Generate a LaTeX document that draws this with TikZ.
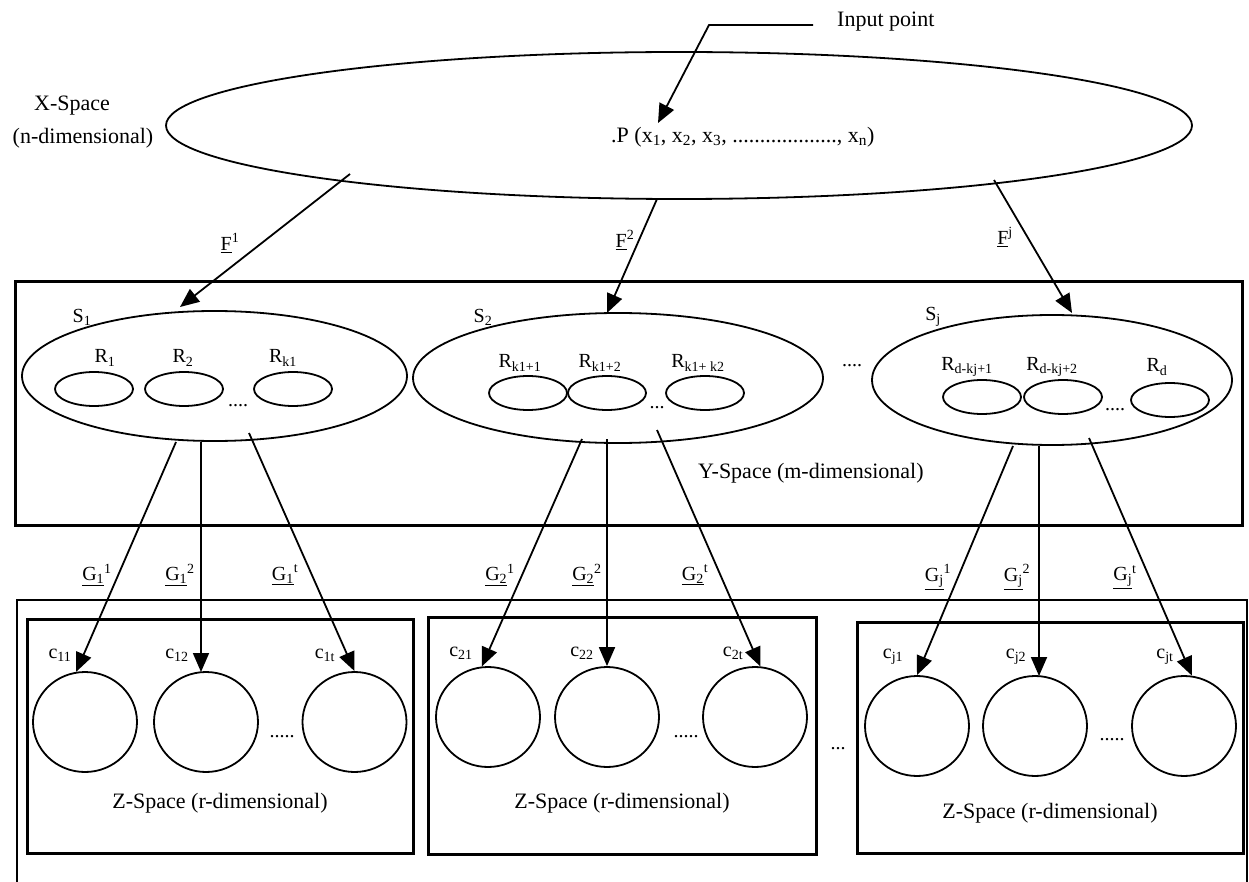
\documentclass[tikz,border=0pt]{standalone}
\usepackage{fontspec}
\setmainfont{Liberation Serif}
\usetikzlibrary{shapes.geometric,arrows.meta}
\begin{document}
\begin{tikzpicture}[x=1pt,y=-1pt,
  lbl/.style={font=\fontsize{22}{26}\selectfont, inner sep=0pt},
  sl/.style={font=\fontsize{20}{24}\selectfont, inner sep=0pt},
  ell/.style={draw, ellipse, line width=1.8pt, inner sep=0pt},
  rell/.style={ell, minimum width=78pt, minimum height=34pt},
  circ/.style={ell, minimum width=104pt, minimum height=100pt},
  box/.style={draw, line width=3pt},
  conn/.style={line width=1.8pt, -{Triangle[length=19pt,width=16pt]}},
]
\useasboundingbox (0,0) rectangle (1249,882);

% ---------- X-space ----------
\node[ell, minimum width=1026pt, minimum height=147pt] (X) at (679,125.5) {};
\node[lbl] (xs1) at (72,106) {X-Space};
\node[lbl] (xs2) at (83,138) {(n-dimensional)};
\node[lbl, anchor=west] (P) at (611,137) {.P (x\textsubscript{1}, x\textsubscript{2}, x\textsubscript{3}, ..................., x\textsubscript{n})};
\node[lbl, anchor=west] (inp) at (837,22) {Input point};
\coordinate (ibend) at (709,25);
\coordinate (itip) at (658,123);
\draw[conn] (813,25) -- (ibend) -- (itip);

% ---------- Y-space ----------
\draw[box] (15,282) rectangle (1242,525);
\node[lbl, anchor=west] (ys) at (698,473) {Y-Space (m-dimensional)};

\node[ell, minimum width=385pt, minimum height=130pt] (S1) at (214.5,376) {};
\node[ell, minimum width=410pt, minimum height=130pt] (S2) at (618,378) {};
\node[ell, minimum width=360pt, minimum height=130pt] (Sj) at (1052,380) {};
\node[sl] (s1l) at (82,317) {S\textsubscript{1}};
\node[sl] (s2l) at (483,317) {S\textsubscript{2}};
\node[sl] (sjl) at (933,317) {S\textsubscript{j}};

\node[rell] (R1) at (94,389) {};
\node[rell] (R2) at (184,389) {};
\node[rell] (Rk1) at (293,389) {};
\node[rell] (Rk11) at (528,393) {};
\node[rell] (Rk12) at (607,393) {};
\node[rell] (Rk1k2) at (705,393) {};
\node[rell] (Rd1) at (982,397) {};
\node[rell] (Rd2) at (1063,397) {};
\node[rell] (Rd) at (1170,400) {};

\node[sl] at (105,358) {R\textsubscript{1}};
\node[sl] at (183,358) {R\textsubscript{2}};
\node[sl] at (283,358) {R\textsubscript{k1}};
\node[sl] at (520,363) {R\textsubscript{k1+1}};
\node[sl] at (600,363) {R\textsubscript{k1+2}};
\node[sl] at (698,363) {R\textsubscript{k1+ k2}};
\node[sl] at (967,367) {R\textsubscript{d-kj+1}};
\node[sl] at (1052,367) {R\textsubscript{d-kj+2}};
\node[sl] at (1157,367) {R\textsubscript{d}};

\node[sl] at (238,406) {....};
\node[sl] at (657,408) {...};
\node[sl] at (1115,410) {....};
\node[sl] at (852,366) {....};

% F arrows
\coordinate (f1s) at (350,174);
\coordinate (f2s) at (657,199);
\coordinate (fjs) at (994,180);
\coordinate (f1t) at (180,307);
\coordinate (f2t) at (607,313);
\coordinate (fjt) at (1072,313);
\draw[conn] (f1s) -- (f1t);
\draw[conn] (f2s) -- (f2t);
\draw[conn] (fjs) -- (fjt);
\node[sl] at (230,243) {\underline{F}\textsuperscript{1}};
\node[sl] at (625,240) {\underline{F}\textsuperscript{2}};
\node[sl] at (1005,237) {\underline{F}\textsuperscript{j}};

% ---------- Z-space ----------
\draw[line width=2pt] (17,895) -- (17,600) -- (1247,600) -- (1247,895);
\draw[box] (27,619) rectangle (413,853);
\draw[box] (428,617) rectangle (816,854);
\draw[box] (857,622) rectangle (1243,853);

\node[circ] (c11) at (85,722) {};
\node[circ] (c12) at (206,722) {};
\node[circ] (c1t) at (354.5,722) {};
\node[circ] (c21) at (488,717) {};
\node[circ] (c22) at (607,717) {};
\node[circ] (c2t) at (755,717) {};
\node[circ] (cj1) at (917,726) {};
\node[circ] (cj2) at (1035,726) {};
\node[circ] (cjt) at (1184,726) {};

\node[sl] at (60,655) {c\textsubscript{11}};
\node[sl] at (177,655) {c\textsubscript{12}};
\node[sl] at (325,655) {c\textsubscript{1t}};
\node[sl] at (461,653) {c\textsubscript{21}};
\node[sl] at (582,653) {c\textsubscript{22}};
\node[sl] at (733,653) {c\textsubscript{2t}};
\node[sl] at (893,657) {c\textsubscript{j1}};
\node[sl] at (1016,657) {c\textsubscript{j2}};
\node[sl] at (1165,657) {c\textsubscript{jt}};

\node[sl] at (282,737) {.....};
\node[sl] at (686,737) {.....};
\node[sl] at (1112,740) {.....};
\node[sl] at (838,749) {...};

\node[lbl] at (220,803) {Z-Space (r-dimensional)};
\node[lbl] at (622,803) {Z-Space (r-dimensional)};
\node[lbl] at (1050,813) {Z-Space (r-dimensional)};

% G arrows
\coordinate (g11) at (176,442);
\coordinate (g12) at (201,442);
\coordinate (g1t) at (249,433);
\coordinate (g21) at (582,439);
\coordinate (g22) at (607,439);
\coordinate (g2t) at (657,430);
\coordinate (gj1) at (1013,446);
\coordinate (gj2) at (1039,446);
\coordinate (gjt) at (1089,438);
\draw[conn] (g11) -- (c11.100);
\draw[conn] (g12) -- (201,672);
\draw[conn] (g1t) -- (c1t.north);
\draw[conn] (g21) -- (c21.97);
\draw[conn] (g22) -- (c22.north);
\draw[conn] (g2t) -- (c2t.84);
\draw[conn] (gj1) -- (cj1.north);
\draw[conn] (gj2) -- (1039,676);
\draw[conn] (gjt) -- (cjt.81);

\node[sl] at (97,575) {\underline{G\textsubscript{1}}\textsuperscript{1}};
\node[sl] at (180,575) {\underline{G\textsubscript{1}}\textsuperscript{2}};
\node[sl] at (285,575) {\underline{G\textsubscript{1}}\textsuperscript{t}};
\node[sl] at (500,575) {\underline{G\textsubscript{2}}\textsuperscript{1}};
\node[sl] at (587,575) {\underline{G\textsubscript{2}}\textsuperscript{2}};
\node[sl] at (695,575) {\underline{G\textsubscript{2}}\textsuperscript{t}};
\node[sl] at (938,577) {\underline{G\textsubscript{j}}\textsuperscript{1}};
\node[sl] at (1017,577) {\underline{G\textsubscript{j}}\textsuperscript{2}};
\node[sl] at (1125,577) {\underline{G\textsubscript{j}}\textsuperscript{t}};
\end{tikzpicture}
\end{document}
